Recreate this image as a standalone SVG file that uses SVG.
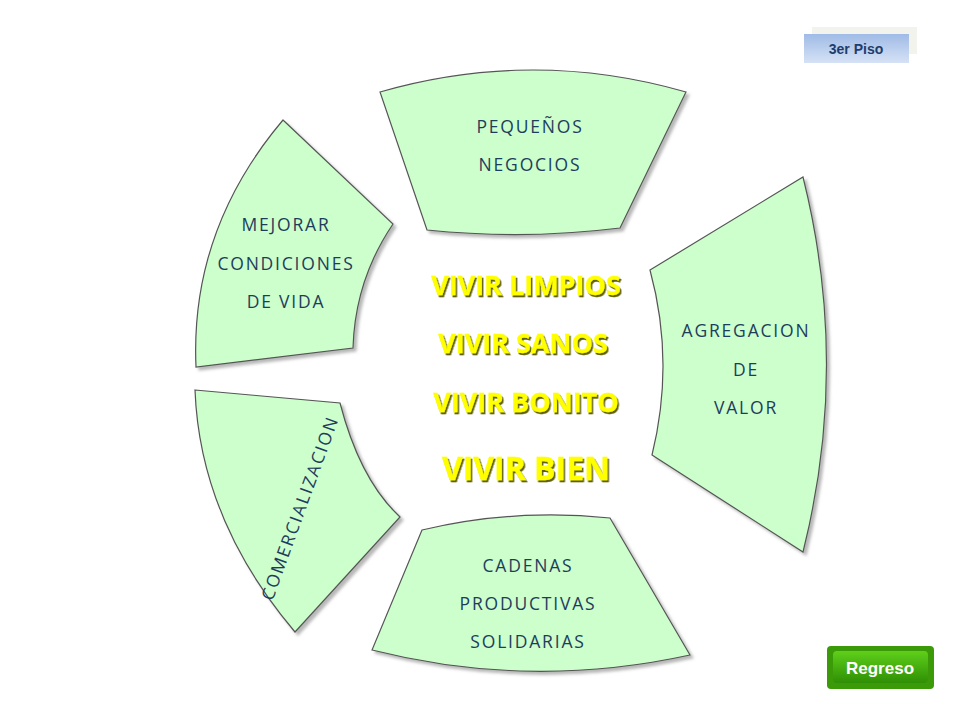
<svg xmlns="http://www.w3.org/2000/svg" width="960" height="720" viewBox="0 0 960 720">
<defs>
<filter id="sh" x="-10%" y="-10%" width="130%" height="130%"><feDropShadow dx="3" dy="3" stdDeviation="1.5" flood-color="#888" flood-opacity="0.6"/></filter>
<filter id="ts" x="-10%" y="-20%" width="120%" height="150%"><feDropShadow dx="1.5" dy="2" stdDeviation="0.4" flood-color="#5e5e08" flood-opacity="1"/></filter>
<linearGradient id="bl" x1="0" y1="0" x2="0" y2="1"><stop offset="0" stop-color="#9fbbe6"/><stop offset="1" stop-color="#d6e2f5"/></linearGradient>
<linearGradient id="gr" x1="0" y1="0" x2="0" y2="1"><stop offset="0" stop-color="#5fcf1a"/><stop offset="1" stop-color="#2f8f05"/></linearGradient>
</defs>
<style>
.seg{fill:#ccffcc;stroke:#555;stroke-width:1.2;filter:url(#sh)}
.lb{font-family:"Open Sans","DejaVu Sans",sans-serif;font-size:17.5px;fill:#1e3d5c;letter-spacing:1.8px;text-anchor:middle}
.vv{font-family:"Open Sans","Liberation Sans",sans-serif;font-weight:bold;fill:#ffff00;text-anchor:middle;stroke:#ffff00;stroke-width:0.3;filter:url(#ts)}
</style>
<rect width="960" height="720" fill="#fff"/>
<g id="btn-piso">
<rect x="812" y="27" width="105" height="27" fill="#f3f3ee"/>
<rect x="804" y="34" width="105" height="29" fill="url(#bl)"/>
<text x="856" y="54" font-family="Liberation Sans,Arial,sans-serif" font-weight="bold" font-size="14" fill="#1e3d6c" text-anchor="middle">3er Piso</text>
</g>
<g id="btn-regreso">
<rect x="827" y="646" width="107" height="43" rx="4" fill="#3a9a08"/>
<rect x="833" y="651" width="95" height="32" rx="4" fill="url(#gr)"/>
<text x="880" y="674" font-family="Liberation Sans,Arial,sans-serif" font-weight="bold" font-size="17" fill="#fff" text-anchor="middle">Regreso</text>
</g>
<g id="n-pequenos">
<path class="seg" d="M380,92 Q533,48 686,92 L620,228 Q523,240 427,230 Z"/>
<text class="lb" x="530" y="133">PEQUEÑOS</text>
<text class="lb" x="530" y="171">NEGOCIOS</text>
</g>
<g id="n-agregacion">
<path class="seg" d="M650,270 L803,177 Q850,365 803,552 L652,455 Q675,362 650,270 Z"/>
<text class="lb" x="746" y="337">AGREGACION</text>
<text class="lb" x="746" y="376">DE</text>
<text class="lb" x="746" y="414">VALOR</text>
</g>
<g id="n-cadenas">
<path class="seg" d="M422,530 Q515,508 610,518 L690,655 Q530,690 372,650 Z"/>
<text class="lb" x="528" y="572">CADENAS</text>
<text class="lb" x="528" y="610">PRODUCTIVAS</text>
<text class="lb" x="528" y="648">SOLIDARIAS</text>
</g>
<g id="n-comercializacion">
<path class="seg" d="M195,390 L340,403 Q360,480 400,517 L295,632 Q200,520 195,390 Z"/>
<text class="lb" transform="translate(300,508) rotate(-70)" x="0" y="6">COMERCIALIZACION</text>
</g>
<g id="n-mejorar">
<path class="seg" d="M283,120 L393,224 Q355,280 353,348 L196,367 Q190,230 283,120 Z"/>
<text class="lb" x="286" y="231">MEJORAR</text>
<text class="lb" x="286" y="270">CONDICIONES</text>
<text class="lb" x="286" y="308">DE VIDA</text>
</g>
<g id="center">
<text class="vv" x="526" y="295" font-size="27">VIVIR LIMPIOS</text>
<text class="vv" x="523" y="353" font-size="27">VIVIR SANOS</text>
<text class="vv" x="526" y="412" font-size="27">VIVIR BONITO</text>
<text class="vv" x="526" y="480" font-size="32">VIVIR BIEN</text>
</g>
<g id="connectors"/>
</svg>
